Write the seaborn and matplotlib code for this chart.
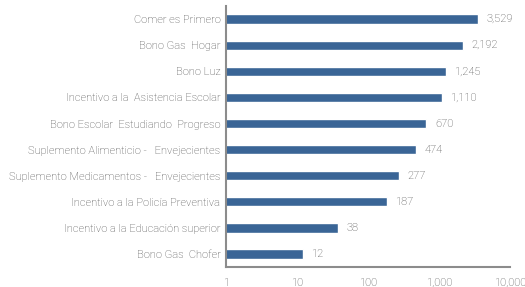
import numpy as np
import pandas as pd
import matplotlib.pyplot as plt
import seaborn as sns
from matplotlib.ticker import FixedLocator, FixedFormatter, NullLocator

# Data
programas = [
    'Comer es Primero',
    'Bono Gas  Hogar',
    'Bono Luz',
    'Incentivo a la  Asistencia Escolar',
    'Bono Escolar  Estudiando  Progreso',
    'Suplemento Alimenticio -   Envejecientes',
    'Suplemento Medicamentos -   Envejecientes',
    'Incentivo a la Policía Preventiva',
    'Incentivo a la Educación superior',
    'Bono Gas  Chofer',
]
valores = [3529, 2192, 1245, 1110, 670, 474, 277, 187, 38, 12]
x_ticks = [1, 10, 100, 1000, 10000]
x_tick_labels = ['1', '10', '100', '1,000', '10,000']

df = pd.DataFrame({'programa': programas, 'valor': valores})

sns.set_theme(style='white')
plt.rcParams['font.family'] = ['Roboto', 'DejaVu Sans']

bar_color = '#3a6596'
text_color = '#4a4a4a'
spine_color = '#8c8c8c'

fig = plt.figure(figsize=(5.25, 2.87), dpi=100)
ax = fig.add_axes([0.4305, 0.0697, 0.5405, 0.909])

sns.barplot(data=df, y='programa', x='valor', orient='h', color=bar_color,
            width=0.36, saturation=1, ax=ax)
ax.set_xscale('log')
ax.set_xlim(1, 10000)
ax.set_ylim(len(programas) - 0.5, -0.5)

for i, v in enumerate(valores):
    ax.annotate(f'{v:,}', xy=(v, i), xytext=(6, 0), textcoords='offset points',
                va='center', ha='left', fontsize=8, color=text_color,
                fontweight='light')

ax.xaxis.set_major_locator(FixedLocator(x_ticks))
ax.xaxis.set_major_formatter(FixedFormatter(x_tick_labels))
ax.xaxis.set_minor_locator(NullLocator())
ax.tick_params(axis='both', length=0, labelsize=8, colors=text_color)
ax.tick_params(axis='x', pad=8)
ax.tick_params(axis='y', pad=4)
for lab in ax.get_xticklabels() + ax.get_yticklabels():
    lab.set_fontweight('light')
ax.set_xlabel('')
ax.set_ylabel('')

for side in ['top', 'right']:
    ax.spines[side].set_visible(False)
for side in ['left', 'bottom']:
    ax.spines[side].set_color(spine_color)
    ax.spines[side].set_linewidth(1.5)

fig.savefig('out.png', dpi=100, facecolor='white')
